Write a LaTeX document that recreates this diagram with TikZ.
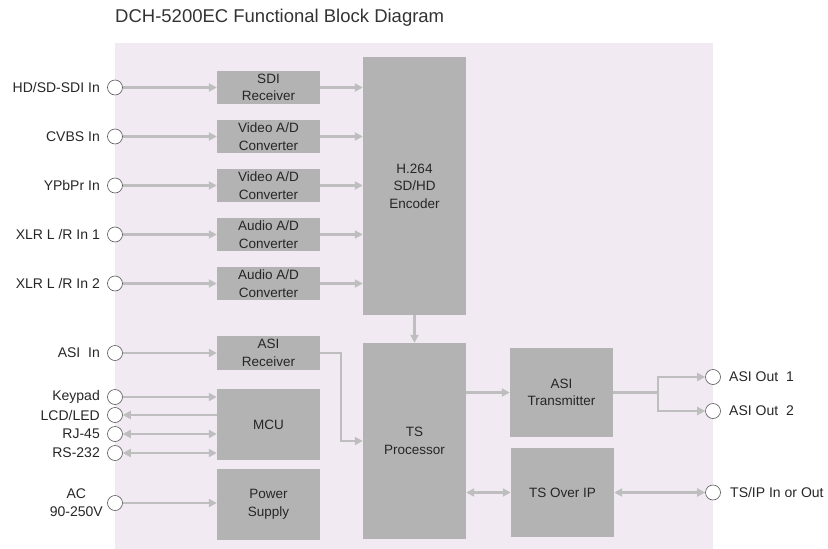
\documentclass[tikz,border=0pt]{standalone}
\usepackage{fontspec}
\setmainfont{Liberation Sans}
\usetikzlibrary{arrows.meta,calc}
\definecolor{bgc}{HTML}{F1EAF3}
\definecolor{boxc}{HTML}{B3B3B3}
\definecolor{arrc}{HTML}{BEBEBE}
\definecolor{txt}{HTML}{262626}
\begin{document}
\begin{tikzpicture}[x=1pt,y=-1pt,
  >={Triangle[length=8pt,width=8pt]},
  blk/.style={fill=boxc, draw=none, minimum width=103pt, align=center, inner sep=0pt,
    font=\fontsize{13.5}{17.5}\selectfont, text=txt},
  port/.style={circle, draw=black!65, fill=white, line width=0.6pt, minimum size=15pt, inner sep=0pt},
  lbl/.style={font=\fontsize{14}{18}\selectfont, text=txt, inner sep=0pt},
  conn/.style={draw=arrc, line width=2.5pt}
]
\useasboundingbox (0,0) rectangle (828,549);
\fill[bgc] (115,43) rectangle (713,549);

\node[anchor=west, font=\fontsize{18.5}{20}\selectfont, text=black!80, inner sep=0pt] (title) at (115,18) {DCH-5200EC Functional Block Diagram};

% blocks
\node[blk, minimum height=33pt] (sdi) at (268.5,87.5) {SDI\\Receiver};
\node[blk, minimum height=33pt] (vad1) at (268.5,136.5) {Video A/D\\Converter};
\node[blk, minimum height=33pt] (vad2) at (268.5,185.5) {Video A/D\\Converter};
\node[blk, minimum height=33pt] (aad1) at (268.5,234.5) {Audio A/D\\Converter};
\node[blk, minimum height=33pt] (aad2) at (268.5,283.5) {Audio A/D\\Converter};
\node[blk, minimum height=258pt] (enc) at (414.5,186) {H.264\\SD/HD\\Encoder};
\node[blk, minimum height=34pt] (asirx) at (268.5,353) {ASI\\Receiver};
\node[blk, minimum height=71pt] (mcu) at (268.5,424.5) {MCU};
\node[blk, minimum height=71pt] (psu) at (268.5,504.5) {Power\\Supply};
\node[blk, minimum height=196pt] (ts) at (414.5,441) {TS\\Processor};
\node[blk, minimum height=89pt] (asitx) at (561.5,392.5) {ASI\\Transmitter};
\node[blk, minimum height=89pt] (tsip) at (562.5,492.5) {TS Over IP};

% left ports
\node[port] (p1) at (115,87.5) {};
\node[port] (p2) at (115,136.5) {};
\node[port] (p3) at (115,185.5) {};
\node[port] (p4) at (115,234.5) {};
\node[port] (p5) at (115,283.5) {};
\node[port] (p6) at (115,353) {};
\node[port] (p7) at (115,397) {};
\node[port] (p8) at (115,415) {};
\node[port] (p9) at (115,434) {};
\node[port] (p10) at (115,453) {};
\node[port] (p11) at (115,503) {};

\node[lbl, anchor=east] (l1) at (100,87.5) {HD/SD-SDI In};
\node[lbl, anchor=east] (l2) at (100,136.5) {CVBS In};
\node[lbl, anchor=east] (l3) at (100,185.5) {YPbPr In};
\node[lbl, anchor=east] (l4) at (100,234.5) {XLR L /R In 1};
\node[lbl, anchor=east] (l5) at (100,283.5) {XLR L /R In 2};
\node[lbl, anchor=east] (l6) at (100,353) {ASI\ \ In};
\node[lbl, anchor=east] (l7) at (100,397) {Keypad};
\node[lbl, anchor=east] (l8) at (100,415) {LCD/LED};
\node[lbl, anchor=east] (l9) at (100,434) {RJ-45};
\node[lbl, anchor=east] (l10) at (100,453) {RS-232};
\node[lbl, anchor=east, align=center] (l11) at (103,503) {AC\\90-250V};

% right ports
\node[port] (o1) at (713,377) {};
\node[port] (o2) at (713,411) {};
\node[port] (o3) at (713,492.5) {};
\node[lbl, anchor=west] (r1) at (729,377) {ASI\ Out\ \ 1};
\node[lbl, anchor=west] (r2) at (729,411) {ASI\ Out\ \ 2};
\node[lbl, anchor=west] (r3) at (730,492.5) {TS/IP In or Out};

% input connectors
\draw[conn,->] (p1) -- (p1 -| sdi.west);
\draw[conn,->] (p2) -- (p2 -| vad1.west);
\draw[conn,->] (p3) -- (p3 -| vad2.west);
\draw[conn,->] (p4) -- (p4 -| aad1.west);
\draw[conn,->] (p5) -- (p5 -| aad2.west);
\draw[conn,->] (p6) -- (p6 -| asirx.west);
\draw[conn,->] (p7) -- (p7 -| mcu.west);
\draw[conn,<-] (p8) -- (p8 -| mcu.west);
\draw[conn,<->] (p9) -- (p9 -| mcu.west);
\draw[conn,<->] (p10) -- (p10 -| mcu.west);
\draw[conn,->] (p11) -- (p11 -| psu.west);

% to encoder
\draw[conn,->] (sdi.east) -- (sdi.east -| enc.west);
\draw[conn,->] (vad1.east) -- (vad1.east -| enc.west);
\draw[conn,->] (vad2.east) -- (vad2.east -| enc.west);
\draw[conn,->] (aad1.east) -- (aad1.east -| enc.west);
\draw[conn,->] (aad2.east) -- (aad2.east -| enc.west);

\draw[conn,->] (enc.south) -- (ts.north);
\draw[conn,->] (asirx.east) -- ++(21,0) |- (ts.west);
\draw[conn,->] (ts.east |- asitx.west) -- (asitx.west);
\coordinate (split) at (658,392.5);
\draw[conn,->] (asitx.east) -- (split) |- (o1);
\draw[conn,->] (split) |- (o2);
\draw[conn,<->] (ts.east |- tsip.west) -- (tsip.west);
\draw[conn,<->] (tsip.east) -- (o3);
\end{tikzpicture}
\end{document}
